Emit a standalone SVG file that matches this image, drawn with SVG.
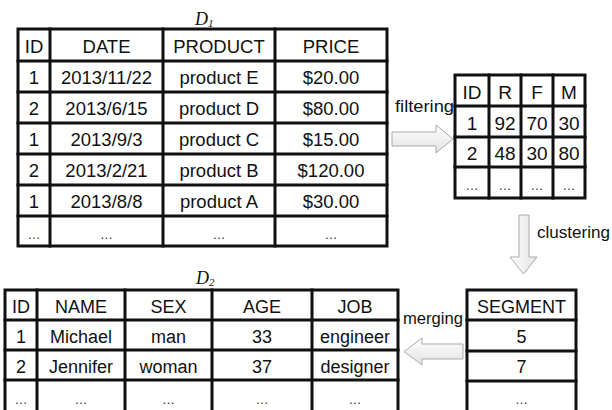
<svg xmlns="http://www.w3.org/2000/svg" width="612" height="410" viewBox="0 0 612 410">
<style>
.g{fill:none;stroke:#111;stroke-width:3;stroke-linecap:square}
.t{font-family:"Liberation Sans",Arial,sans-serif;font-size:18px;fill:#111;text-anchor:middle}
.r{font-size:19px}
.e{font-family:"Liberation Sans",Arial,sans-serif;font-size:13px;fill:#333;text-anchor:middle}
.lb{font-family:"Liberation Sans",Arial,sans-serif;font-size:16px;fill:#111}
.tt{font-family:"Liberation Serif","Times New Roman",serif;font-style:italic;fill:#111}
.ar{stroke:#aaa;stroke-width:1}
</style>
<defs>
<linearGradient id="gh" x1="0" y1="0" x2="0" y2="1"><stop offset="0" stop-color="#ffffff"/><stop offset="1" stop-color="#e2e2e2"/></linearGradient>
<linearGradient id="gv" x1="0" y1="0" x2="1" y2="0"><stop offset="0" stop-color="#ffffff"/><stop offset="1" stop-color="#e2e2e2"/></linearGradient>
</defs>

<g id="D1">
<text class="tt" x="195" y="25" font-size="18">D<tspan font-size="11" dy="2">1</tspan></text>
<rect class="g" x="18" y="29" width="369" height="217"/>
<path class="g" d="M50 29V246M163 29V246M275 29V246M18 61H387M18 92H387M18 123H387M18 154H387M18 185H387M18 216H387"/>
<g class="t" style="font-size:18.5px">
<text x="34" y="53">ID</text><text x="106.5" y="53">DATE</text><text x="219" y="53">PRODUCT</text><text x="331" y="53">PRICE</text>
<text x="34" y="84">1</text><text x="106.5" y="84">2013/11/22</text><text x="219" y="84">product E</text><text x="331" y="84">$20.00</text>
<text x="34" y="115">2</text><text x="106.5" y="115">2013/6/15</text><text x="219" y="115">product D</text><text x="331" y="115">$80.00</text>
<text x="34" y="146">1</text><text x="106.5" y="146">2013/9/3</text><text x="219" y="146">product C</text><text x="331" y="146">$15.00</text>
<text x="34" y="177">2</text><text x="106.5" y="177">2013/2/21</text><text x="219" y="177">product B</text><text x="331" y="177">$120.00</text>
<text x="34" y="208">1</text><text x="106.5" y="208">2013/8/8</text><text x="219" y="208">product A</text><text x="331" y="208">$30.00</text>
</g>
<g class="e"><text x="34" y="239">…</text><text x="106.5" y="239">…</text><text x="219" y="239">…</text><text x="331" y="239">…</text></g>
</g>

<g id="RFM">
<rect class="g" x="455" y="75" width="130" height="123"/>
<path class="g" d="M489 75V198M521 75V198M553 75V198M455 106H585M455 137H585M455 167H585"/>
<g class="t r">
<text x="472" y="99">ID</text><text x="505" y="99">R</text><text x="537" y="99">F</text><text x="569" y="99">M</text>
<text x="472" y="130">1</text><text x="505" y="130">92</text><text x="537" y="130">70</text><text x="569" y="130">30</text>
<text x="472" y="160">2</text><text x="505" y="160">48</text><text x="537" y="160">30</text><text x="569" y="160">80</text>
</g>
<g class="e"><text x="472" y="190">…</text><text x="505" y="190">…</text><text x="537" y="190">…</text><text x="569" y="190">…</text></g>
</g>

<g id="D2">
<text class="tt" x="196" y="284" font-size="18">D<tspan font-size="11" dy="2">2</tspan></text>
<rect class="g" x="5" y="290" width="393" height="125"/>
<path class="g" d="M37 290V415M125 290V415M212 290V415M312 290V415M5 320H398M5 350H398M5 380H398"/>
<g class="t">
<text x="21" y="313">ID</text><text x="81" y="313">NAME</text><text x="168.5" y="313">SEX</text><text x="262" y="313">AGE</text><text x="355" y="313">JOB</text>
<text x="21" y="343">1</text><text x="81" y="343">Michael</text><text x="168.5" y="343">man</text><text x="262" y="343">33</text><text x="355" y="343">engineer</text>
<text x="21" y="373">2</text><text x="81" y="373">Jennifer</text><text x="168.5" y="373">woman</text><text x="262" y="373">37</text><text x="355" y="373">designer</text>
</g>
<g class="e"><text x="21" y="404">…</text><text x="81" y="404">…</text><text x="168.5" y="404">…</text><text x="262" y="404">…</text><text x="355" y="404">…</text></g>
</g>

<g id="SEGMENT">
<rect class="g" x="467" y="290" width="109" height="125"/>
<path class="g" d="M467 320H576M467 351H576M467 381H576"/>
<g class="t">
<text x="521.5" y="313">SEGMENT</text><text x="521.5" y="343">5</text><text x="521.5" y="373">7</text>
</g>
<g class="e"><text x="521.5" y="404">…</text></g>
</g>

<g id="connectors">
<path class="ar" fill="url(#gh)" d="M392 132H436V125L453 139L436 153V146H392Z"/>
<path class="ar" fill="url(#gv)" d="M519 215H529V257H537L523.5 274L510 257H519Z"/>
<path class="ar" fill="url(#gh)" d="M463 344H422V338L404 351.5L422 365V359H463Z"/>
<text class="lb" x="395" y="112" textLength="59" lengthAdjust="spacingAndGlyphs">filtering</text>
<text class="lb" x="537" y="238" textLength="73" lengthAdjust="spacingAndGlyphs">clustering</text>
<text class="lb" x="403" y="324" textLength="60" lengthAdjust="spacingAndGlyphs">merging</text>
</g>
</svg>
